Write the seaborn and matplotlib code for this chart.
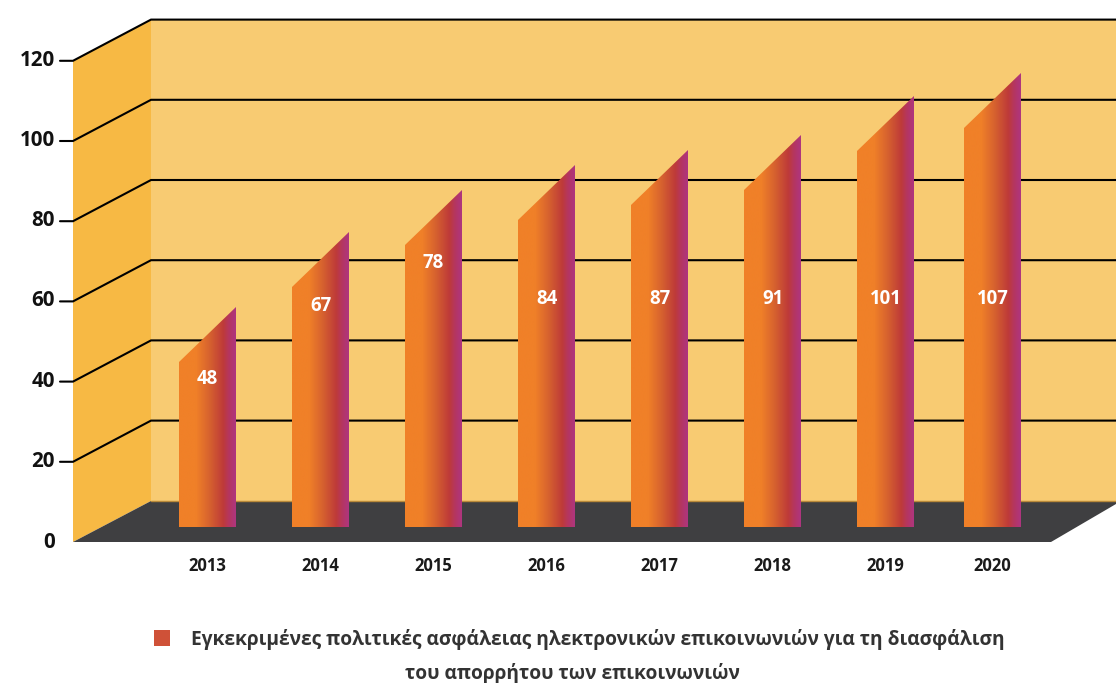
import numpy as np
import pandas as pd
import seaborn as sns
import matplotlib
matplotlib.use("Agg")
import matplotlib.pyplot as plt
from matplotlib.colors import LinearSegmentedColormap
from matplotlib.patches import Polygon, Rectangle

years = [2013, 2014, 2015, 2016, 2017, 2018, 2019, 2020]
printed_values = [48, 67, 78, 84, 87, 91, 101, 107]
# heights as actually drawn in the picture, in axis units at the bars' depth
drawn_heights = [41.25, 60.0, 70.5, 76.75, 80.5, 84.25, 94.0, 99.75]
axis_ticks = [0, 20, 40, 60, 80, 100, 120]
legend_lines = ["Εγκεκριμένες πολιτικές ασφάλειας ηλεκτρονικών επικοινωνιών για τη διασφάλιση",
                "του απορρήτου των επικοινωνιών"]

W, H = 1116, 683
PX_X = 113.0   # px per year
PX_Y = 4.0     # px per value unit
X0_PX, Y0_PX = 207.5, 527.0

sns.set_theme(style="white")
plt.rcParams["font.family"] = ["Open Sans", "DejaVu Sans"]
fig = plt.figure(figsize=(W / 100, H / 100), dpi=100, facecolor="white")
ax = fig.add_axes([0, 0, 1, 1])

def xd(px):
    return 2013 + (px - X0_PX) / PX_X
def yd(py):
    return (Y0_PX - py) / PX_Y

df = pd.DataFrame({"year": years, "h": drawn_heights})
sns.barplot(data=df, x="year", y="h", native_scale=True, width=57 / PX_X,
            color="#F08028", saturation=1, ax=ax, zorder=3)
bar_patches = sorted(ax.patches, key=lambda p: p.get_x())
ax.set_xlim(xd(0), xd(W))
ax.set_ylim(yd(H), yd(0))
ax.axis("off")

FRONT0 = yd(542)
BACK0 = yd(501)
GRID = 4.01 / PX_Y       # grid spacing, slightly finer than the bar scale
XL, XB = xd(73), xd(151)

def front(t):
    return FRONT0 + t * GRID
def back(t):
    return yd(500.8) + t * GRID

# walls and floor
ax.add_patch(Polygon([(XB, BACK0), (xd(W), BACK0), (xd(W), back(120)), (XB, back(120))],
                     fc="#F8CB72", ec="none", zorder=0))
ax.add_patch(Polygon([(XL, FRONT0), (XB, BACK0), (XB, back(120)), (XL, front(120))],
                     fc="#F7B944", ec="none", zorder=0))
ax.add_patch(Polygon([(XL, FRONT0), (XB, BACK0), (xd(W), BACK0), (xd(W), yd(504)), (xd(1051), FRONT0)],
                     fc="#3F3F41", ec="none", zorder=1))
ax.plot([XB, xd(W)], [BACK0, BACK0], color="#B98A3A", lw=1, zorder=1)

# grid lines
for t in axis_ticks:
    if t == 0:
        continue
    ax.plot([xd(60), XL, XB, xd(W)], [front(t), front(t), back(t), back(t)],
            color="black", lw=1.5, zorder=2, solid_joinstyle="miter")
for t in axis_ticks:
    ax.text(xd(55), front(t) + 0.1 if t else front(t), str(t), ha="right", va="center",
            fontsize=14.8, fontweight="bold", color="#111111")

# gradient bars with slanted tops
cmap = LinearSegmentedColormap.from_list(
    "bar", [(0, "#F08028"), (0.30, "#F08028"), (0.55, "#D5602F"),
            (0.78, "#BE3A39"), (0.88, "#B53660"), (1, "#AE3580")])
grad = np.linspace(0, 1, 256).reshape(1, -1)
RISE = 55 / PX_Y
label_offsets_px = [17, 19, 18, 79, 94, 109, 148, 171]
for i, p in enumerate(bar_patches):
    x, w, h = p.get_x(), p.get_width(), p.get_height()
    if years[i] == 2020:
        x -= 6 / PX_X
        p.set_x(x)
    im = ax.imshow(grad, extent=(x, x + w, 0, h + RISE), aspect="auto", cmap=cmap,
                   origin="lower", zorder=4, interpolation="bilinear")
    clip = Polygon([(x, 0), (x + w, 0), (x + w, h + RISE), (x, h)], transform=ax.transData,
                   fc="none", ec="none")
    ax.add_patch(clip)
    im.set_clip_path(clip)
    p.set_visible(False)
    cx = x + w / 2
    ax.text(cx, h - label_offsets_px[i] / PX_Y, str(printed_values[i]), ha="center", va="center",
            color="white", fontsize=13.4, fontweight="bold", zorder=5)
    ax.text(cx, yd(566), str(years[i]), ha="center", va="center", color="#1A1A1A",
            fontsize=12, fontweight="bold")

ax.set_xlim(xd(0), xd(W))
ax.set_ylim(yd(H), yd(0))

# legend
ax.add_patch(Rectangle((xd(154), yd(646)), 16 / PX_X, 16 / PX_Y, fc="#CF5138", ec="none", clip_on=False))
ax.text(xd(598), yd(639), legend_lines[0], ha="center", va="center", fontsize=13.8,
        fontweight="bold", color="#333333")
ax.text(xd(572), yd(673), legend_lines[1], ha="center", va="center", fontsize=13.8,
        fontweight="bold", color="#333333")

fig.savefig("out.png", dpi=100)
